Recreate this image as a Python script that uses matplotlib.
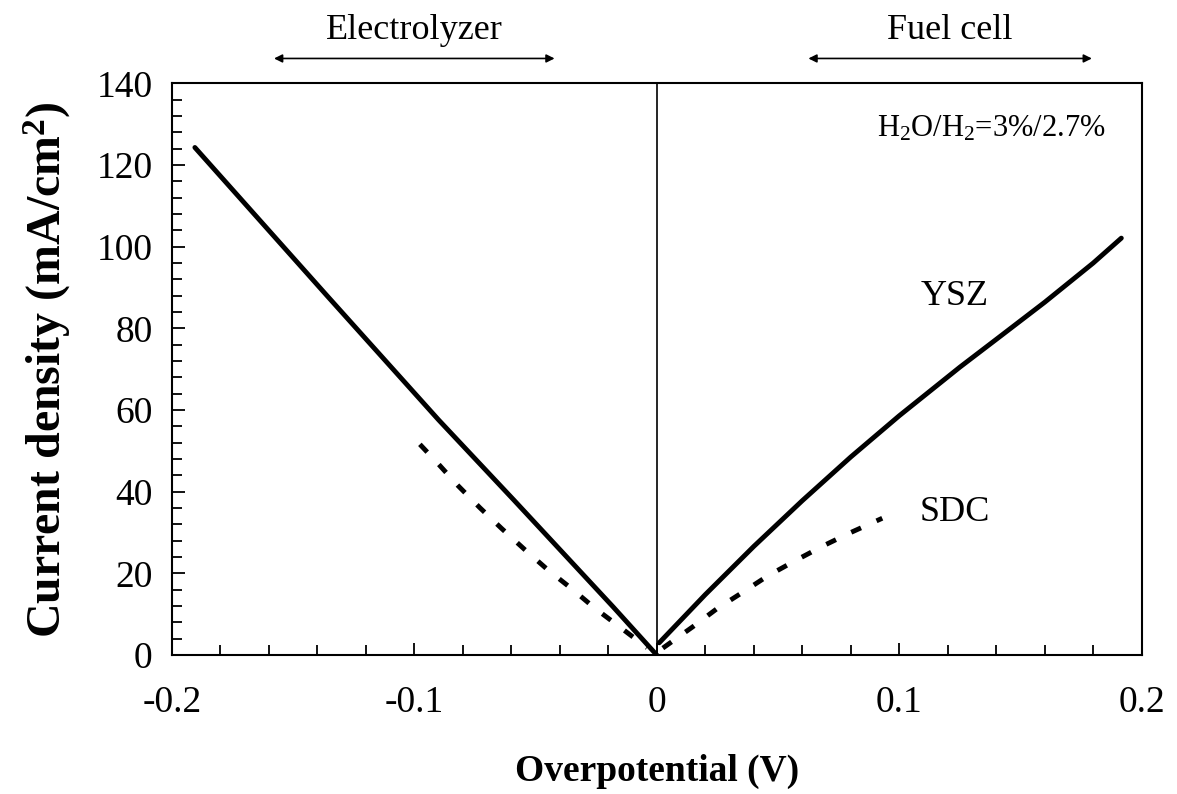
import matplotlib
matplotlib.use("Agg")
import matplotlib.pyplot as plt
from matplotlib.ticker import MultipleLocator

plt.rcParams['font.family'] = ['Liberation Serif', 'DejaVu Serif']
plt.rcParams['mathtext.fontset'] = 'custom'
plt.rcParams['mathtext.rm'] = 'Liberation Serif'
plt.rcParams['mathtext.it'] = 'Liberation Serif:italic'
plt.rcParams['mathtext.bf'] = 'Liberation Serif:bold'

# YSZ (solid)
ysz_x_left = [-0.1905, -0.136, -0.09, -0.059, -0.018, 0.0]
ysz_y_left = [124.3, 88.0, 57.6, 38.0, 11.8, 0.0]
ysz_x_right = [0.001, 0.02, 0.04, 0.06, 0.08, 0.10, 0.125, 0.14, 0.16, 0.18, 0.1916]
ysz_y_right = [3.0, 14.8, 26.6, 37.8, 48.5, 58.6, 70.5, 77.3, 86.4, 96.0, 102.1]

# SDC (dashed)
sdc_x_left = [-0.0977, -0.0907, -0.082, -0.073, -0.064, -0.0544, -0.045, -0.035, -0.0256, -0.0153, -0.004]
sdc_y_left = [51.6, 47.2, 41.5, 36.1, 31.0, 25.8, 20.9, 16.2, 11.5, 6.9, 1.8]
sdc_x_right = [0.0025, 0.0148, 0.0247, 0.0355, 0.0458, 0.0577, 0.0685, 0.0796, 0.093]
sdc_y_right = [1.7, 6.9, 11.3, 15.4, 19.4, 23.3, 26.7, 29.9, 33.5]

fig = plt.figure(figsize=(11.77, 7.94), dpi=100)
ax = fig.add_axes([0.146, 0.175, 0.824, 0.720])

lw = 3.5
ax.plot(ysz_x_left, ysz_y_left, color='black', lw=lw, solid_capstyle='round', solid_joinstyle='round')
ax.plot(ysz_x_right, ysz_y_right, color='black', lw=lw, solid_capstyle='round', solid_joinstyle='round')
for xs, ys in [(sdc_x_left, sdc_y_left), (sdc_x_right, sdc_y_right)]:
    ax.plot(xs, ys, color='black', lw=lw, dashes=(2.2, 3.5), dash_capstyle='butt')

ax.axvline(0, color='black', lw=1.2)

ax.set_xlim(-0.2, 0.2)
ax.set_ylim(0, 140)
ax.xaxis.set_minor_locator(MultipleLocator(0.02))
ax.yaxis.set_major_locator(MultipleLocator(20))
ax.yaxis.set_minor_locator(MultipleLocator(4))
ax.set_xticks([-0.2, -0.1, 0, 0.1, 0.2])
ax.set_xticklabels(['-0.2', '-0.1', '0', '0.1', '0.2'])

ax.tick_params(which='both', direction='in', width=1.3, labelsize=27)
ax.tick_params(which='major', length=9)
ax.tick_params(which='minor', length=7)
ax.tick_params(axis='x', pad=22)
ax.tick_params(axis='y', pad=14)
for s in ax.spines.values():
    s.set_linewidth(1.5)

ax.set_xlabel('Overpotential (V)', fontsize=27, fontweight='bold', labelpad=24)
ax.set_ylabel(r'Current density (mA/cm$^\mathbf{2}$)', fontsize=34.5, fontweight='bold', labelpad=17)

ax.text(0.123, 87.7, 'YSZ', fontsize=26, ha='center', va='center')
ax.text(0.123, 34.9, 'SDC', fontsize=26, ha='center', va='center')
ax.text(0.185, 129.0, r'H$_\mathregular{2}$O/H$_\mathregular{2}$=3%/2.7%', fontsize=22, ha='right', va='center')

# region labels with double arrows above the plot
ax.annotate('', xy=(-0.159, 146.1), xytext=(-0.041, 146.1), xycoords='data',
            arrowprops=dict(arrowstyle='<|-|>', color='black', lw=1.2, mutation_scale=12),
            annotation_clip=False)
ax.annotate('', xy=(0.0614, 146.1), xytext=(0.1806, 146.1), xycoords='data',
            arrowprops=dict(arrowstyle='<|-|>', color='black', lw=1.2, mutation_scale=12),
            annotation_clip=False)
ax.text(-0.1, 153.0, 'Electrolyzer', fontsize=26, ha='center', va='center', clip_on=False)
ax.text(0.121, 153.0, 'Fuel cell', fontsize=26, ha='center', va='center', clip_on=False)

fig.savefig('out.png', dpi=100)
